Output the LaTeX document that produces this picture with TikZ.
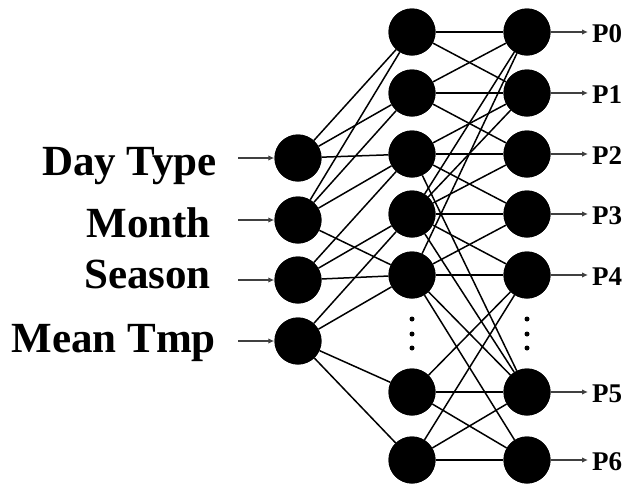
\documentclass[tikz,border=0pt]{standalone}
\usepackage{fontspec}
\setmainfont{Liberation Serif}
\usetikzlibrary{arrows.meta}
\begin{document}
\begin{tikzpicture}[x=1pt,y=-1pt,
  neuron/.style={circle,fill=black,inner sep=0pt,minimum size=47pt},
  link/.style={line width=1.5pt,black},
  feed/.style={line width=1.7pt,black!75,-{Latex[length=6pt,width=5.5pt]}},
  inlabel/.style={anchor=base east,font=\bfseries\fontsize{43}{50}\selectfont,inner sep=0pt},
  outlabel/.style={anchor=base west,font=\bfseries\fontsize{27}{32}\selectfont,inner sep=0pt},
  vdot/.style={circle,fill=black,inner sep=0pt,minimum size=5pt}]
\useasboundingbox (0,0) rectangle (630,485);

% input layer
\foreach \k/\y in {0/158,1/220,2/280,3/341}
  \node[neuron] (i\k) at (298,\y) {};
% hidden layer
\foreach \k/\y in {0/32,1/93,2/154,3/214,4/275,5/392,6/460}
  \node[neuron] (h\k) at (412,\y) {};
% output layer
\foreach \k/\y in {0/32,1/93,2/154,3/214,4/275,5/392,6/460}
  \node[neuron] (o\k) at (527,\y) {};

% input -> hidden weights
\foreach \a/\list in {0/{0,1,2},1/{0,1,2,4},2/{2,3,4},3/{3,4,5,6}}
  \foreach \b in \list
    \draw[link] (i\a) -- (h\b);
% hidden -> output weights
\foreach \a/\list in {0/{0,1},1/{0,1,2},2/{1,2,3,5},3/{0,1,2,3,4,5},4/{0,3,4,5,6},5/{4,5,6},6/{4,5,6}}
  \foreach \b in \list
    \draw[link] (h\a) -- (o\b);

% redraw neurons above the weights
\foreach \k in {0,...,3} \node[neuron] at (i\k) {};
\foreach \k in {0,...,6} {\node[neuron] at (h\k) {}; \node[neuron] at (o\k) {};}

% ellipsis dots
\foreach \x in {412,527}
  \foreach \y/\n in {319/a,334/b,348/c}
    \node[vdot] (d\x\n) at (\x,\y) {};

% input arrows and labels
\foreach \k/\y in {0/158,1/220,2/280,3/341} {
  \coordinate (s\k) at (238,\y);
  \draw[feed] (s\k) -- (i\k.west);
}
\node[inlabel] (l0) at (217,175) {Day Type};
\node[inlabel] (l1) at (211,237) {Month};
\node[inlabel] (l2) at (211,288) {Season};
\node[inlabel] (l3) at (216,352) {Mean Tmp};

% output arrows and labels
\foreach \k/\y in {0/32,1/93,2/154,3/214,4/275,5/392,6/460} {
  \coordinate (e\k) at (588,\y);
  \draw[feed] (o\k.east) -- (e\k);
  \node[outlabel] (p\k) at (592,\y+10) {P\k};
}
\end{tikzpicture}
\end{document}
